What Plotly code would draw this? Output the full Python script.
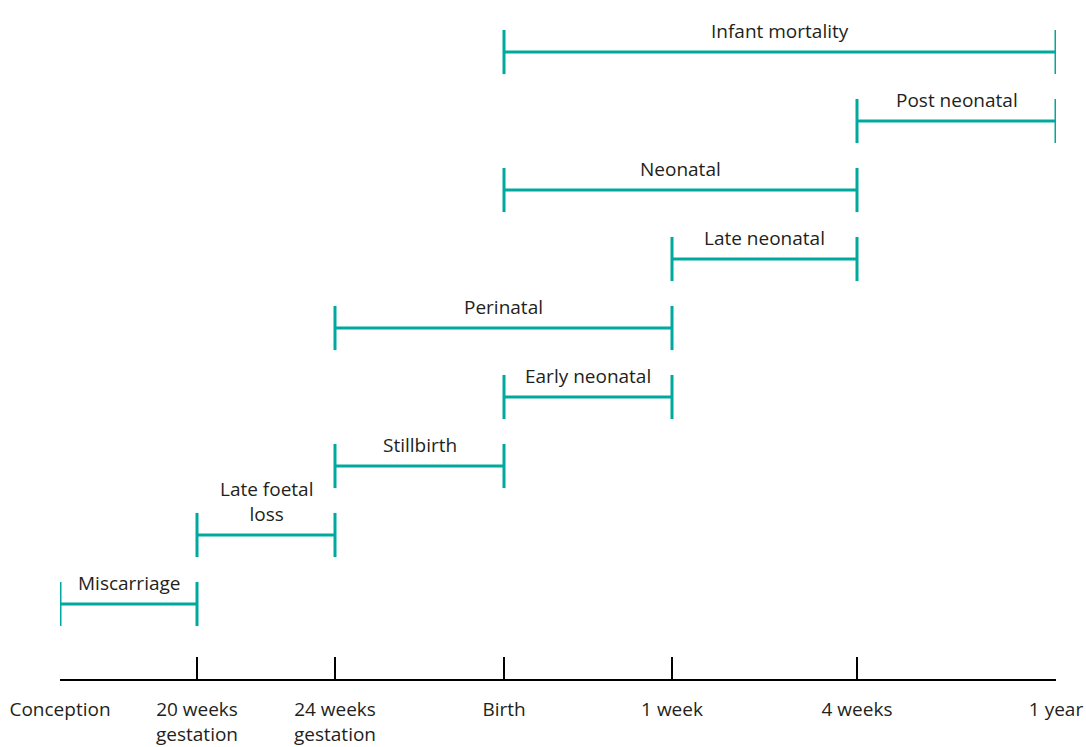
import plotly.graph_objects as go

# Timeline milestones (schematic positions along the time axis)
milestones = ["Conception", "20 weeks<br>gestation", "24 weeks<br>gestation", "Birth",
              "1 week", "4 weeks", "1 year"]
milestone_pos = [0, 137, 275, 444, 612, 797, 996]

# Periods: label, start milestone index, end milestone index (bottom to top)
period_labels = ["Miscarriage", "Late foetal<br>loss", "Stillbirth", "Early neonatal",
                 "Perinatal", "Late neonatal", "Neonatal", "Post neonatal", "Infant mortality"]
period_start = [0, 1, 2, 3, 2, 4, 3, 5, 3]
period_end = [1, 2, 3, 4, 4, 5, 5, 6, 6]

TEAL = "#00a99d"
TEXT = "#231f20"
FONT = "Open Sans"

fig = go.Figure()
annotations = []
for row, (lab, s, e) in enumerate(zip(period_labels, period_start, period_end)):
    x0, x1 = milestone_pos[s], milestone_pos[e]
    fig.add_trace(go.Scatter(
        x=[x0, x1], y=[row, row], mode="lines",
        line=dict(color=TEAL, width=3),
        error_y=dict(type="constant", value=0.32, width=0, thickness=3, color=TEAL),
        hoverinfo="skip", showlegend=False,
    ))
    annotations.append(dict(
        x=(x0 + x1) / 2, y=row, xref="x", yref="y", text=lab, showarrow=False,
        yanchor="bottom", yshift=6, font=dict(family=FONT, size=19, color=TEXT),
    ))

fig.update_layout(
    width=1086, height=747,
    margin=dict(l=60, r=30, t=0, b=68),
    plot_bgcolor="white", paper_bgcolor="white",
    annotations=annotations,
    xaxis=dict(
        range=[milestone_pos[0], milestone_pos[-1]],
        tickmode="array", tickvals=milestone_pos, ticktext=milestones,
        ticks="inside", ticklen=22, tickwidth=2, tickcolor="black",
        showline=True, linewidth=2, linecolor="black",
        showgrid=False, zeroline=False, ticklabelstandoff=12, automargin=False,
        tickfont=dict(family=FONT, size=19, color=TEXT),
    ),
    yaxis=dict(range=[-1.087, 8.754], visible=False, showgrid=False,
               zeroline=False, automargin=False),
)

fig.write_html("out.html", config={"displayModeBar": False},
               post_script="document.body.style.margin='0';document.body.style.overflow='hidden';")
